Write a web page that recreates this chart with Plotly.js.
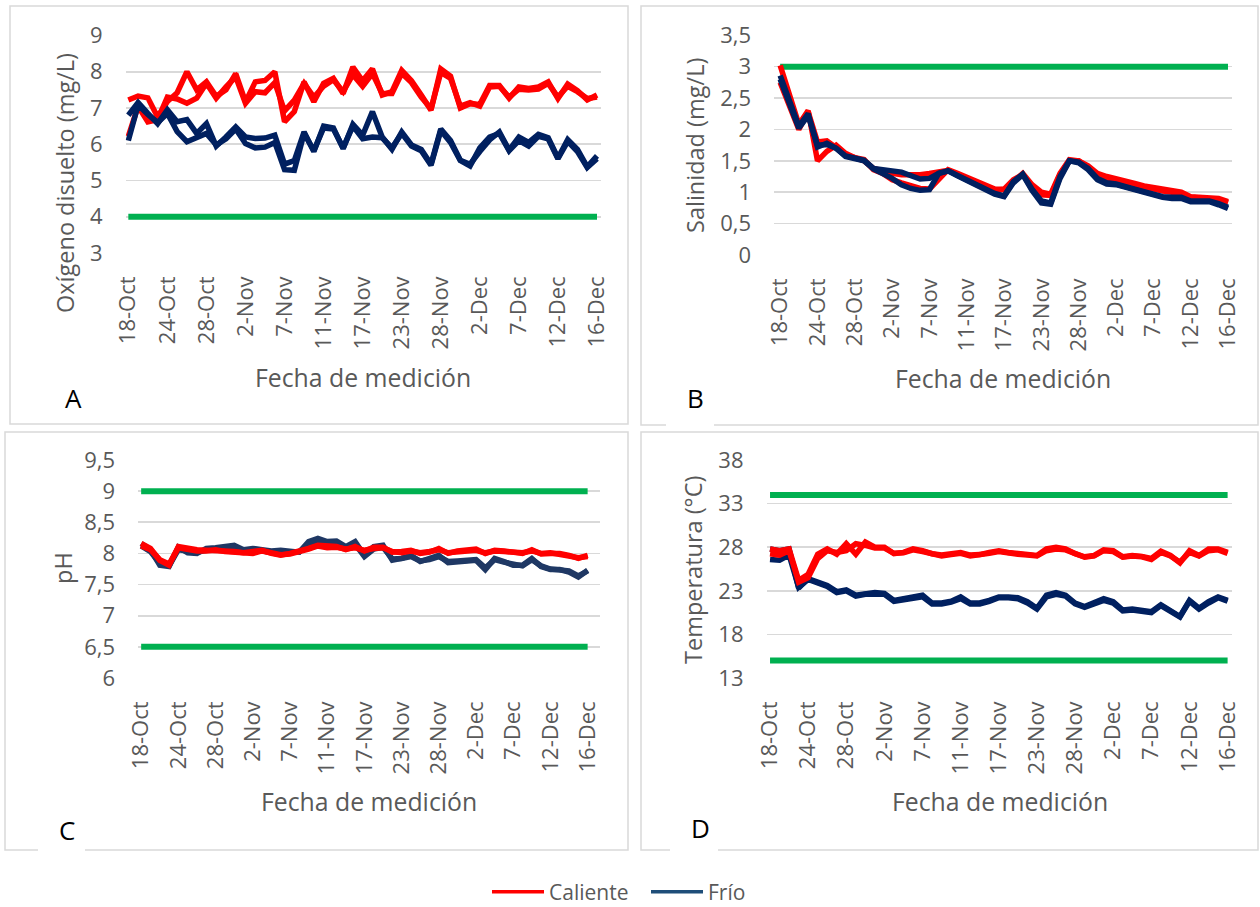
<!DOCTYPE html>
<html>
<head>
<meta charset="utf-8">
<script src="https://cdn.plot.ly/plotly-3.0.1.min.js"></script>
<style>
  html, body { margin: 0; padding: 0; background: #ffffff; }
  #chart { width: 1260px; height: 907px; }
</style>
</head>
<body>
<div id="chart"></div>
<script>
// Measurement dates (category axis); every 4th date is labelled
const categories = [
  "18-Oct","19-Oct","21-Oct","22-Oct","24-Oct","25-Oct","26-Oct","27-Oct","28-Oct","29-Oct",
  "31-Oct","1-Nov","2-Nov","3-Nov","4-Nov","6-Nov","7-Nov","8-Nov","9-Nov","10-Nov",
  "11-Nov","12-Nov","14-Nov","15-Nov","17-Nov","18-Nov","20-Nov","21-Nov","23-Nov","24-Nov",
  "25-Nov","27-Nov","28-Nov","29-Nov","30-Nov","1-Dec","2-Dec","3-Dec","5-Dec","6-Dec",
  "7-Dec","8-Dec","9-Dec","11-Dec","12-Dec","13-Dec","14-Dec","15-Dec","16-Dec"
];
const tickLabels = ["18-Oct","24-Oct","28-Oct","2-Nov","7-Nov","11-Nov","17-Nov",
  "23-Nov","28-Nov","2-Dec","7-Dec","12-Dec","16-Dec"];

// A: dissolved oxygen (mg/L)
const oxygenHot1 = [7.22,7.33,7.28,6.75,7.18,7.42,8.0,7.5,7.72,7.32,7.5,7.95,7.17,7.72,7.76,8.0,6.62,6.9,7.72,7.17,7.68,7.82,7.4,8.13,7.75,8.08,7.36,7.45,8.04,7.75,7.36,6.94,8.08,7.88,7.0,7.12,7.1,7.62,7.62,7.27,7.58,7.54,7.58,7.72,7.26,7.66,7.48,7.22,7.36];
const oxygenHot2 = [6.22,7.05,6.62,6.68,7.3,7.25,7.13,7.27,7.68,7.27,7.58,7.86,7.13,7.45,7.42,7.7,6.92,7.22,7.68,7.3,7.6,7.78,7.45,7.92,7.6,7.95,7.4,7.4,7.96,7.7,7.3,6.98,7.98,7.82,7.05,7.15,7.05,7.58,7.6,7.3,7.52,7.5,7.52,7.68,7.3,7.6,7.45,7.26,7.3];
const oxygenCold1 = [6.8,7.15,6.85,6.57,6.95,6.62,6.68,6.3,6.57,5.95,6.2,6.48,6.2,6.16,6.17,6.25,5.45,5.55,6.34,5.8,6.5,6.45,5.88,6.55,6.25,6.9,6.2,5.86,6.34,5.98,5.86,5.45,6.42,6.1,5.56,5.45,5.8,6.12,6.34,5.84,6.2,6.05,6.27,6.18,5.62,6.13,5.86,5.38,5.68];
const oxygenCold2 = [6.1,7.08,6.82,6.6,6.85,6.35,6.07,6.2,6.3,5.98,6.15,6.42,6.02,5.9,5.92,6.05,5.3,5.28,6.3,5.82,6.45,6.42,5.9,6.5,6.15,6.2,6.18,5.9,6.3,5.95,5.82,5.42,6.38,6.05,5.55,5.4,5.9,6.2,6.3,5.82,6.1,5.95,6.22,6.15,5.6,6.08,5.8,5.36,5.6];
const oxygenLimit = [4];

// B: salinity (mg/L)
const salinityHot1 = [3.02,2.55,2.08,2.3,1.5,1.65,1.75,1.62,1.55,1.52,1.36,1.3,1.2,1.15,1.1,1.06,1.05,1.22,1.36,1.3,1.24,1.18,1.1,1.05,1.04,1.18,1.3,1.12,1.0,0.97,1.3,1.52,1.5,1.42,1.3,1.25,1.22,1.18,1.14,1.1,1.07,1.04,1.01,1.0,0.93,0.92,0.92,0.9,0.85];
const salinityHot2 = [2.75,2.4,2.0,2.28,1.8,1.82,1.72,1.6,1.55,1.5,1.38,1.33,1.3,1.28,1.27,1.28,1.3,1.32,1.35,1.28,1.22,1.16,1.08,1.03,1.05,1.2,1.28,1.1,0.96,0.95,1.28,1.5,1.5,1.4,1.28,1.22,1.2,1.16,1.12,1.08,1.05,1.02,1.0,0.98,0.92,0.9,0.9,0.88,0.83];
const salinityCold1 = [2.86,2.45,2.05,2.25,1.72,1.78,1.7,1.58,1.54,1.51,1.38,1.35,1.34,1.32,1.26,1.21,1.22,1.3,1.34,1.27,1.2,1.14,1.05,0.98,0.94,1.17,1.29,1.05,0.86,0.83,1.25,1.5,1.48,1.38,1.22,1.15,1.13,1.1,1.05,1.01,0.97,0.93,0.92,0.92,0.86,0.87,0.86,0.82,0.76];
const salinityCold2 = [2.8,2.42,2.02,2.22,1.75,1.76,1.7,1.57,1.53,1.5,1.37,1.3,1.22,1.12,1.06,1.03,1.04,1.3,1.34,1.26,1.19,1.12,1.03,0.97,0.93,1.15,1.28,1.03,0.83,0.81,1.22,1.5,1.47,1.36,1.2,1.13,1.12,1.08,1.03,0.99,0.95,0.92,0.9,0.9,0.85,0.86,0.85,0.8,0.74];
const salinityLimit = [3];

// C: pH
const phHot1 = [8.16,8.08,7.89,7.81,8.11,8.08,8.06,8.05,8.05,8.05,8.03,8.01,8.02,8.05,8.0,7.97,8.0,8.03,8.08,8.13,8.11,8.11,8.06,8.11,8.04,8.1,8.1,8.02,8.03,8.05,8.0,8.02,8.08,8.0,8.04,8.05,8.07,8.0,8.05,8.04,8.03,8.0,8.06,7.99,8.0,8.0,7.97,7.92,7.97];
const phHot2 = [8.12,8.06,7.9,7.83,8.09,8.06,8.04,8.04,8.06,8.03,8.02,8.02,8.0,8.04,8.01,7.98,7.99,8.02,8.07,8.12,8.09,8.1,8.07,8.09,8.05,8.08,8.09,8.03,8.01,8.04,8.01,8.03,8.06,8.01,8.03,8.04,8.05,8.01,8.04,8.03,8.02,8.01,8.04,8.0,8.01,7.99,7.96,7.93,7.95];
const phCold1 = [8.16,8.06,7.81,7.79,8.1,8.01,8.0,8.08,8.09,8.11,8.13,8.06,8.08,8.06,8.04,8.05,8.04,8.02,8.19,8.24,8.19,8.2,8.11,8.19,7.97,8.11,8.13,7.89,7.92,7.97,7.87,7.92,7.97,7.85,7.87,7.88,7.89,7.74,7.92,7.87,7.81,7.81,7.92,7.79,7.74,7.74,7.7,7.62,7.73];
const phCold2 = [8.12,8.03,7.84,7.8,8.06,8.03,8.02,8.05,8.06,8.08,8.1,8.05,8.05,8.04,8.02,8.03,8.03,8.03,8.15,8.2,8.16,8.17,8.1,8.15,7.95,8.07,8.1,7.91,7.92,7.95,7.88,7.9,7.95,7.87,7.88,7.88,7.9,7.77,7.9,7.86,7.82,7.8,7.9,7.8,7.75,7.74,7.72,7.64,7.72];
const phLimits = [9, 6.5];

// D: temperature (°C)
const tempHot1 = [27.8,27.6,27.8,24.2,24.9,27.2,27.8,27.2,28.4,27.2,28.6,28.0,28.0,27.25,27.4,27.8,27.6,27.25,27.1,27.2,27.4,27.1,27.15,27.4,27.6,27.4,27.25,27.2,27.05,27.8,28.0,27.8,27.25,26.9,27.05,27.7,27.6,26.9,27.05,26.95,26.7,27.55,27.05,26.2,27.6,27.05,27.8,27.8,27.4];
const tempHot2 = [27.25,27.1,27.6,24.0,24.5,26.7,27.6,27.4,27.6,28.4,28.2,27.9,27.9,27.3,27.35,27.7,27.5,27.2,27.0,27.15,27.3,27.0,27.1,27.3,27.5,27.3,27.2,27.1,27.0,27.6,27.8,27.7,27.2,26.85,27.0,27.6,27.5,26.85,27.0,26.9,26.6,27.4,27.0,26.3,27.4,27.0,27.6,27.7,27.3];
const tempCold1 = [27.8,27.6,27.8,23.3,24.4,24.0,23.6,22.9,23.1,22.5,22.7,22.8,22.7,21.9,22.1,22.3,22.5,21.6,21.6,21.8,22.3,21.6,21.6,21.9,22.3,22.3,22.2,21.75,21.0,22.5,22.8,22.5,21.6,21.2,21.6,22.1,21.75,20.8,20.9,20.8,20.6,21.4,20.8,20.05,21.9,21.0,21.75,22.3,21.9];
const tempCold2 = [26.6,26.5,27.1,23.4,24.3,23.9,23.5,22.8,23.0,22.4,22.6,22.6,22.6,21.8,22.0,22.2,22.3,21.5,21.5,21.7,22.1,21.5,21.5,21.8,22.2,22.2,22.1,21.6,20.9,22.3,22.6,22.4,21.5,21.1,21.5,21.9,21.6,20.7,20.8,20.7,20.5,21.3,20.7,20.0,21.8,20.9,21.6,22.2,21.8];
const tempLimits = [34, 15];

const seriesNames = ["Caliente", "Frío"];

// ---- styling ----
const W = 1260, H = 907;
const px = x => x / W;          // pixel -> paper (horizontal)
const py = y => 1 - y / H;      // pixel -> paper (vertical)
const FONT = "Open Sans, Noto Sans, sans-serif";
const GREY = "#595959";
const RED = "#FF0000";
const NAVY = "#002060";
const NAVY_C = "#1F3864";
const LEGEND_BLUE = "#1F4E79";
const GREEN = "#00B050";
const LW = 5.5;

function lineTrace(values, color, width, n) {
  const s = n === 1 ? "" : String(n);
  return {
    type: "scatter", mode: "lines",
    x: categories, y: values,
    xaxis: "x" + s, yaxis: "y" + s,
    line: { color: color, width: width, shape: "linear" },
    showlegend: false, hoverinfo: "skip"
  };
}
function limitTrace(level, n) {
  return lineTrace(categories.map(() => level), GREEN, 6, n);
}

const traces = [];
// A
oxygenLimit.forEach(v => traces.push(limitTrace(v, 1)));
traces.push(lineTrace(oxygenHot1, RED, LW, 1), lineTrace(oxygenHot2, RED, LW, 1));
traces.push(lineTrace(oxygenCold1, NAVY, LW, 1), lineTrace(oxygenCold2, NAVY, LW, 1));
// B
salinityLimit.forEach(v => traces.push(limitTrace(v, 2)));
traces.push(lineTrace(salinityHot1, RED, LW, 2), lineTrace(salinityHot2, RED, LW, 2));
traces.push(lineTrace(salinityCold1, NAVY, LW, 2), lineTrace(salinityCold2, NAVY, LW, 2));
// C
phLimits.forEach(v => traces.push(limitTrace(v, 3)));
traces.push(lineTrace(phCold1, NAVY_C, LW, 3), lineTrace(phCold2, NAVY_C, LW, 3));
traces.push(lineTrace(phHot1, RED, LW, 3), lineTrace(phHot2, RED, LW, 3));
// D
tempLimits.forEach(v => traces.push(limitTrace(v, 4)));
traces.push(lineTrace(tempCold1, NAVY, LW, 4), lineTrace(tempCold2, NAVY, LW, 4));
traces.push(lineTrace(tempHot1, RED, LW, 4), lineTrace(tempHot2, RED, LW, 4));

// legend entries
[[seriesNames[0], RED], [seriesNames[1], LEGEND_BLUE]].forEach(([name, color]) => {
  traces.push({
    type: "scatter", mode: "lines", x: [null], y: [null],
    name: name, line: { color: color, width: 3.5 }, showlegend: true, hoverinfo: "skip"
  });
});

function xAxis(left, right, rng, anchor) {
  return {
    type: "category", anchor: anchor,
    domain: [px(left), px(right)], range: rng,
    tickmode: "array", tickvals: tickLabels, ticktext: tickLabels,
    tickangle: -90, ticks: "", showgrid: false, zeroline: false, showline: false,
    ticklabelstandoff: 18,
    tickfont: { family: FONT, size: 22, color: GREY }, fixedrange: true
  };
}
function yAxis(top, bottom, rng, dtick, anchor) {
  return {
    anchor: anchor,
    domain: [py(bottom), py(top)], range: rng,
    tick0: rng[0], dtick: dtick, ticks: "",
    showgrid: true, gridcolor: "#D9D9D9", gridwidth: 1.6,
    zeroline: false, showline: false,
    ticklabelstandoff: 22,
    tickfont: { family: FONT, size: 22, color: GREY }, fixedrange: true
  };
}

function text(t, x, y, size, color, angle) {
  return {
    text: t, x: px(x), y: py(y), xref: "paper", yref: "paper",
    showarrow: false, xanchor: "center", yanchor: "middle",
    textangle: angle || 0,
    font: { family: FONT, size: size, color: color }
  };
}

const annotations = [
  text("Oxígeno disuelto (mg/L)", 65, 183, 23.5, GREY, -90),
  text("Salinidad (mg/L)", 695, 146, 23.5, GREY, -90),
  text("pH", 63, 568, 23.5, GREY, -90),
  text("Temperatura (°C)", 693, 570, 23.5, GREY, -90),
  text("Fecha de medición", 363, 377, 24.8, GREY),
  text("Fecha de medición", 1003, 378, 24.8, GREY),
  text("Fecha de medición", 369, 801, 24.8, GREY),
  text("Fecha de medición", 1000, 801, 24.8, GREY),
  text("A", 73, 398, 26, "#000000"),
  text("B", 695, 398, 26, "#000000"),
  text("C", 67, 830, 26, "#000000"),
  text("D", 700, 828, 26, "#000000")
];

function frame(x0, y0, x1, y1) {
  return { type: "rect", xref: "paper", yref: "paper",
    x0: px(x0), x1: px(x1), y0: py(y1), y1: py(y0),
    line: { color: "#D9D9D9", width: 1.5 }, fillcolor: "rgba(0,0,0,0)", layer: "below" };
}
function gap(x0, x1, y) {
  return { type: "rect", xref: "paper", yref: "paper",
    x0: px(x0), x1: px(x1), y0: py(y + 3), y1: py(y - 3),
    line: { width: 0 }, fillcolor: "#FFFFFF", layer: "below" };
}

const shapes = [
  frame(10, 6, 628, 424),
  frame(641, 6, 1258, 425),
  frame(5, 432, 628, 850),
  frame(641, 432, 1258, 850),
  gap(666, 714, 425),
  gap(38, 85, 850),
  gap(670, 718, 850)
];

const layout = {
  width: W, height: H, autosize: false,
  margin: { l: 0, r: 0, t: 0, b: 0, autoexpand: false },
  paper_bgcolor: "#FFFFFF", plot_bgcolor: "rgba(0,0,0,0)",
  separators: ", ",
  font: { family: FONT, color: GREY },
  xaxis: xAxis(125.5, 601, [-0.29, 48.41], "y"),
  yaxis: yAxis(35.5, 253, [3, 9], 1, "x"),
  xaxis2: xAxis(774, 1232, [-0.66, 48.43], "y2"),
  yaxis2: yAxis(35.3, 255, [0, 3.5], 0.5, "x2"),
  xaxis3: xAxis(138, 600, [-0.34, 49.33], "y3"),
  yaxis3: yAxis(460, 678, [6, 9.5], 0.5, "x3"),
  xaxis4: xAxis(766.5, 1232, [-0.37, 48.46], "y4"),
  yaxis4: yAxis(460, 678, [13, 38], 5, "x4"),
  showlegend: true,
  legend: {
    orientation: "h", x: px(487), xanchor: "left", y: py(892), yanchor: "middle",
    font: { family: FONT, size: 21, color: GREY },
    itemwidth: 52, entrywidth: 92, entrywidthmode: "pixels",
    bgcolor: "rgba(0,0,0,0)"
  },
  annotations: annotations,
  shapes: shapes
};

Plotly.newPlot("chart", traces, layout, { displayModeBar: false, staticPlot: true });
</script>
</body>
</html>
